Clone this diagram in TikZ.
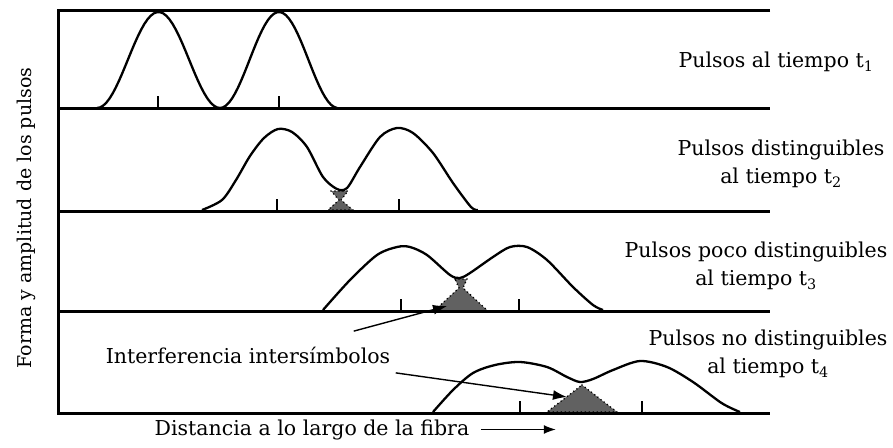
\documentclass[tikz,border=0pt]{standalone}
\usepackage{fontspec}
\setmainfont{DejaVu Serif}
\usepackage{tikz}
\usetikzlibrary{arrows.meta,positioning,calc}

\begin{document}
\begin{tikzpicture}[x=1pt,y=-1pt,
    pulse/.style={line width=2.3pt, line join=round},
    rail/.style={line width=3pt},
    tic/.style={line width=2.6pt},
    isi/.style={fill=black!62, draw=black, line width=1.8pt, line cap=round, dash pattern=on 0pt off 4pt},
    lbl/.style={font=\fontsize{20.5}{28}\selectfont, align=center},
    flecha/.style={line width=1.4pt, -{Latex[length=14pt,width=10pt]}}]
    \useasboundingbox (0,0) rectangle (893,447);

    % zonas de interferencia
    \draw[isi] (331,191) -- (348,191) -- (341,200) -- (353,210) -- (328,210) -- (339,200) -- cycle;
    \draw[isi] (455,279) -- (467,279) -- (463,288) -- (488,311) -- (434,311) -- (459,288) -- cycle;
    \draw[isi] (582,385) -- (617,412) -- (547,412) -- cycle;

    % marco
    \draw[rail] (770,10) -- (58,10) -- (58,413) -- (770,413);
    \foreach \y in {108,211,311} \draw[rail] (58,\y) -- (770,\y);

    % pulsos t1
    \draw[pulse] plot[domain=97:220,samples=40] (\x,{108-48*(1-cos(2.927*(\x-97)))});
    \draw[pulse] plot[domain=220:337,samples=40] (\x,{108-48*(1-cos(3.051*(\x-220)))});
    % pulsos t2
    \draw[pulse] plot[smooth] coordinates {(202,210) (222,200) (236,180) (250,156) (264,138) (278,129) (292,132) (307,147) (323,177) (337,189) (347,188) (360,167) (380,137) (397,128) (413,133) (433,153) (453,183) (471,207) (478,210)};
    % pulsos t3
    \draw[pulse] plot[smooth] coordinates {(323,310) (350,280) (377,255) (397,247) (410,247) (427,255) (450,275) (460,278) (470,273) (493,257) (510,247) (527,247) (547,260) (573,287) (593,305) (603,310)};
    % pulsos t4
    \draw[pulse] plot[smooth] coordinates {(433,412) (453,390) (473,373) (495,365) (520,362) (547,367) (567,377) (580,382) (593,379) (613,370) (640,361) (667,367) (693,382) (720,402) (733,409) (740,412)};

    \foreach \x/\y in {158/108,279/108,277/211,399/211,401/311,519/311,520/413,642/413}
        \draw[tic] (\x,\y) -- ++(0,-12);

    \node[lbl] (t1) at (776,62) {Pulsos al tiempo t\textsubscript{1}};
    \node[lbl] (t2) at (781,164) {Pulsos distinguibles\\al tiempo t\textsubscript{2}};
    \node[lbl] (t3) at (756,266) {Pulsos poco distinguibles\\al tiempo t\textsubscript{3}};
    \node[lbl] (t4) at (768,354) {Pulsos no distinguibles\\al tiempo t\textsubscript{4}};
    \node[lbl] (interf) at (248,355) {Interferencia intersímbolos};
    \node[lbl, font=\fontsize{19}{27}\selectfont, rotate=90] (eje) at (26,218) {Forma y amplitud de los pulsos};
    \node[lbl, anchor=base] (dist) at (312,435) {Distancia a lo largo de la fibra};

    \coordinate (c3) at (447,306);
    \coordinate (c4) at (567,397);
    \draw[flecha] ($(interf.north east)+(-40,-12)$) -- (c3);
    \draw[flecha] ($(interf.south east)+(2,6)$) -- (c4);
    \draw[flecha, -{Latex[length=12pt,width=9pt]}] ([xshift=8pt]dist.east) -- ++(75,0);
\end{tikzpicture}
\end{document}
